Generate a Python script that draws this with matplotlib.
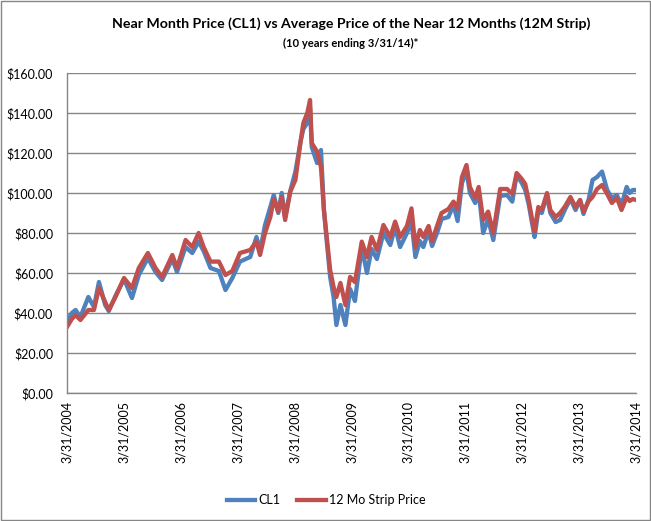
import numpy as np
import pandas as pd
import matplotlib
matplotlib.use("Agg")
import matplotlib.pyplot as plt
import matplotlib.dates as mdates
from matplotlib.patches import Rectangle

# values (approximate)
dates = [
    "2004-03-31", "2004-05-01", "2004-05-25", "2004-06-25", "2004-08-15", "2004-09-20",
    "2004-10-22", "2004-12-01", "2004-12-24", "2005-02-05", "2005-04-01", "2005-05-22",
    "2005-07-05", "2005-09-01", "2005-10-20", "2005-12-01", "2006-02-05", "2006-03-07",
    "2006-05-01", "2006-06-13", "2006-07-24", "2006-08-25", "2006-10-08", "2006-12-01",
    "2007-01-12", "2007-02-25", "2007-04-15", "2007-06-20", "2007-07-30", "2007-08-22",
    "2007-09-23", "2007-10-27", "2007-11-18", "2007-12-17", "2008-01-08", "2008-01-30",
    "2008-03-03", "2008-04-05", "2008-05-08", "2008-05-26", "2008-06-20", "2008-07-08",
    "2008-07-19", "2008-08-22", "2008-09-16", "2008-10-05", "2008-10-23", "2008-11-14",
    "2008-12-06", "2008-12-24", "2009-01-19", "2009-02-20", "2009-03-22", "2009-04-22",
    "2009-06-05", "2009-07-08", "2009-08-07", "2009-09-10", "2009-10-22", "2009-12-05",
    "2010-01-05", "2010-02-06", "2010-03-22", "2010-04-20", "2010-05-15", "2010-06-13",
    "2010-07-05", "2010-08-08", "2010-08-30", "2010-10-01", "2010-10-30", "2010-12-13",
    "2011-01-15", "2011-02-10", "2011-03-10", "2011-04-08", "2011-04-30", "2011-06-03",
    "2011-06-25", "2011-07-24", "2011-08-25", "2011-09-27", "2011-11-10", "2011-12-24",
    "2012-01-27", "2012-02-24", "2012-03-28", "2012-04-19", "2012-05-11", "2012-06-03",
    "2012-06-18", "2012-07-12", "2012-08-03", "2012-09-06", "2012-09-27", "2012-10-31",
    "2012-11-29", "2013-01-01", "2013-02-03", "2013-03-08", "2013-04-06", "2013-04-28",
    "2013-06-01", "2013-06-25", "2013-07-24", "2013-08-25", "2013-09-27", "2013-10-27",
    "2013-11-28", "2013-12-28", "2014-01-30", "2014-02-18", "2014-03-10", "2014-03-31",
]
cl1 = [
    36, 40, 41.5, 38, 48, 43,
    55.5, 44, 41, 48.5, 57, 47.5,
    59, 67.5, 60.5, 56.5, 67, 60.5,
    73, 70, 75.7, 71, 62.5, 61,
    51.5, 57.5, 65.7, 68, 78, 71,
    84, 93, 99, 90, 100, 88,
    101, 110.7, 125.7, 132, 135, 142,
    123, 115, 121.5, 91.5, 76, 58,
    48, 34, 44, 34, 52, 46,
    73, 60, 72, 67, 80, 74,
    83, 73, 80, 86, 68, 76,
    73, 81, 73.5, 80, 87, 88,
    94, 86, 105, 111, 100, 95,
    101, 80, 87, 76.5, 98.5, 99,
    95.7, 109, 105, 101.5, 94.5, 84.5,
    78, 91, 90, 99, 90, 85.5,
    86.5, 92, 97, 91.5, 96.5, 89.5,
    97, 106.5, 108, 110.7, 101.5, 97.5,
    99, 94, 103, 100, 101.5, 101.5,
]
strip = [
    33, 37, 39, 36.5, 41.5, 41.5,
    52.5, 45.5, 41.5, 48, 57.5, 52.5,
    62.5, 70, 62.5, 58, 69, 62.5,
    76.5, 73, 80, 73, 65.7, 65.7,
    59, 61, 70, 71.5, 75.7, 69,
    80, 88, 97, 90.7, 98, 86.5,
    100.7, 106.5, 125.7, 135, 140, 146.5,
    125, 120.7, 113, 91.5, 78, 61.5,
    53, 48, 55, 44, 58, 55.5,
    75.7, 68, 78, 71.5, 84, 78,
    85.7, 78, 83.5, 92.3, 73, 81.5,
    78, 83.5, 76, 83.5, 90, 92,
    95.7, 92, 108, 114, 103, 97.5,
    103, 86.5, 90.7, 80, 102, 102,
    99.5, 110, 107, 104.5, 96.5, 86.5,
    80.7, 93, 91.5, 100, 91.5, 88,
    90, 93.5, 98, 93, 96.5, 90.7,
    96, 98, 102, 104, 99.5, 95,
    97.5, 91.5, 98, 96, 97, 96.5,
]
tick_dates = ["2004-03-31", "2005-03-31", "2006-03-31", "2007-03-31", "2008-03-31",
              "2009-03-31", "2010-03-31", "2011-03-31", "2012-03-31", "2013-03-31",
              "2014-03-31"]
tick_labels = ["3/31/2004", "3/31/2005", "3/31/2006", "3/31/2007", "3/31/2008",
               "3/31/2009", "3/31/2010", "3/31/2011", "3/31/2012", "3/31/2013",
               "3/31/2014"]
y_ticks = [0, 20, 40, 60, 80, 100, 120, 140, 160]

plt.rcParams['font.family'] = ['Lato', 'DejaVu Sans']

x = pd.to_datetime(dates)
xt = pd.to_datetime(tick_dates)

fig = plt.figure(figsize=(6.51, 5.21), dpi=100)
ax = fig.add_axes([67 / 651, 1 - 393 / 521, (636 - 67) / 651, (393 - 73) / 521])

grid_col = "#868686"
ax.plot(x, cl1, color="#4F81BD", lw=3.1, label="CL1", solid_joinstyle="round")
ax.plot(x, strip, color="#C0504D", lw=3.1, label="12 Mo Strip Price", solid_joinstyle="round")

ax.set_xlim(xt[0], xt[-1])
ax.set_ylim(0, 160)
ax.set_yticks(y_ticks)
ax.set_yticklabels(["${:.2f}".format(v) for v in y_ticks])
ax.set_xticks(xt)
ax.set_xticklabels(tick_labels, rotation=90)
ax.tick_params(axis="both", length=0, labelsize=9, colors="black")
ax.tick_params(axis="y", pad=10)
ax.tick_params(axis="x", pad=6)
ax.yaxis.grid(True, color=grid_col, lw=1)
ax.set_axisbelow(True)
for s in ["top", "right"]:
    ax.spines[s].set_visible(False)
for s in ["left", "bottom"]:
    ax.spines[s].set_color(grid_col)
    ax.spines[s].set_linewidth(1)

fig.text(351 / 651, 1 - 24 / 521, "Near Month Price (CL1) vs Average Price of the Near 12 Months (12M Strip)",
         ha="center", va="center", fontsize=10.2, fontweight="bold")
fig.text(351 / 651, 1 - 43 / 521, "(10 years ending 3/31/14)*",
         ha="center", va="center", fontsize=8, fontweight="bold")

fig.legend(loc="center", bbox_to_anchor=(326 / 651, 1 - 500 / 521), ncol=2, frameon=False,
           fontsize=9, handlelength=2.3, handletextpad=0.2, columnspacing=1.4)

fig.patches.append(Rectangle((0.001, 0.001), 0.997, 0.997, transform=fig.transFigure,
                             fill=False, edgecolor=grid_col, lw=1))

fig.savefig("out.png", dpi=100)
